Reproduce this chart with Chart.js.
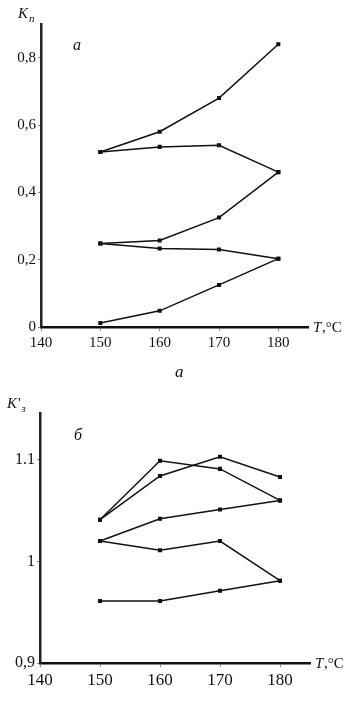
<!DOCTYPE html>
<html>
<head>
<meta charset="utf-8">
<script src="https://cdn.jsdelivr.net/npm/chart.js@4"></script>
<style>
  body { margin: 0; background: #fff; }
  .wrap { position: absolute; left: 0; width: 363px; }
</style>
</head>
<body>
<div class="wrap" style="top:0;height:360px"><canvas id="chartA" width="363" height="360"></canvas></div>
<div class="wrap" style="top:380px;height:330px"><canvas id="chartB" width="363" height="330"></canvas></div>
<script>
// temperatures, °C
const temps = [150, 160, 170, 180];
const xTicks = [140, 150, 160, 170, 180];

// panel a: K_п
const kpTop = [0.52, 0.58, 0.68, 0.84];
const kpUpperMid = [0.52, 0.535, 0.54, 0.46];
const kpLowerMid = [0.248, 0.257, 0.325, 0.46];
const kpLow = [0.248, 0.233, 0.23, 0.203];
const kpBottom = [0.012, 0.048, 0.125, 0.203];
const kpTicks = [0, 0.2, 0.4, 0.6, 0.8];
const kpTickLabels = ['0', '0,2', '0,4', '0,6', '0,8'];

// panel б: K'_з
const kz1 = [1.041, 1.099, 1.091, 1.060];
const kz2 = [1.041, 1.084, 1.103, 1.083];
const kz3 = [1.020, 1.042, 1.051, 1.060];
const kz4 = [1.020, 1.011, 1.020, 0.981];
const kz5 = [0.961, 0.961, 0.971, 0.981];
const kzTicks = [0.9, 1.0, 1.1];
const kzTickLabels = ['0,9', '1', '1.1'];

const serif = '"Liberation Serif", "DejaVu Serif", serif';
Chart.defaults.font.family = serif;
Chart.defaults.color = '#111';
Chart.defaults.animation = false;

function series(vals) {
    return {
        data: vals.map((v, i) => ({ x: temps[i], y: v })),
        borderColor: '#111',
        backgroundColor: '#111',
        borderWidth: 1.5,
        pointRadius: 1.8,
        pointStyle: 'rect',
        tension: 0
    };
}

// extra text: axis names, panel letter
function labelsPlugin(cfg) {
    return {
        id: 'labels',
        afterDraw(chart) {
            const c = chart.ctx, a = chart.chartArea;
            c.save();
            c.fillStyle = '#111';
            c.textBaseline = 'alphabetic';
            // y name
            c.font = 'italic 15px ' + serif;
            c.fillText(cfg.yMain, cfg.yx, cfg.yy);
            let w = c.measureText(cfg.yMain).width;
            c.font = 'italic 11px ' + serif;
            c.fillText(cfg.ySub, cfg.yx + w + 1, cfg.yy + 4);
            // x name
            c.font = 'italic 15px ' + serif;
            c.fillText('T', a.right + 5, a.bottom + 5);
            c.font = '15px ' + serif;
            c.fillText(',°C', a.right + 14, a.bottom + 5);
            // panel letter
            c.font = 'italic 16px ' + serif;
            c.fillText(cfg.panel, cfg.px, cfg.py);
            c.restore();
        }
    };
}

function makeChart(id, sets, yMin, yMax, yTicks, yLabels, pad, xHeight, yWidth, fx, fy, lab) {
    new Chart(document.getElementById(id), {
        type: 'line',
        data: { datasets: sets.map(series) },
        options: {
            responsive: false,
            layout: { padding: pad },
            plugins: { legend: { display: false }, tooltip: { enabled: false } },
            scales: {
                x: {
                    type: 'linear', min: 140, max: 185,
                    afterBuildTicks: s => { s.ticks = xTicks.map(v => ({ value: v })); },
                    afterFit: s => { s.height = xHeight; },
                    border: { color: '#111', width: 2.5 },
                    grid: { drawOnChartArea: false, color: '#888', tickLength: 4 },
                    ticks: { font: { size: fx }, padding: 3, maxRotation: 0, color: '#111' }
                },
                y: {
                    type: 'linear', min: yMin, max: yMax,
                    afterBuildTicks: s => { s.ticks = yTicks.map(v => ({ value: v })); },
                    afterFit: s => { s.width = yWidth; },
                    border: { color: '#222', width: 2.5 },
                    grid: { drawOnChartArea: false, color: '#888', tickLength: 3 },
                    ticks: {
                        font: { size: fy }, padding: 2, color: '#111',
                        callback: v => yLabels[yTicks.findIndex(t => Math.abs(t - v) < 1e-6)]
                    }
                }
            }
        },
        plugins: [labelsPlugin(lab)]
    });
}

makeChart('chartA', [kpTop, kpUpperMid, kpLowerMid, kpLow, kpBottom],
    0, 0.9, kpTicks, kpTickLabels,
    { left: 0, right: 55, top: 24, bottom: 0 }, 33, 41, 15, 15,
    { yMain: 'K', ySub: 'п', yx: 18, yy: 18, panel: 'a', px: 73, py: 50 });

makeChart('chartB', [kz1, kz2, kz3, kz4, kz5],
    0.9, 1.146, kzTicks, kzTickLabels,
    { left: 0, right: 53, top: 33, bottom: 0 }, 47, 40, 17, 16,
    { yMain: "K'", ySub: 'з', yx: 7, yy: 28, panel: 'б', px: 74, py: 60 });

// caption under panel a
const cap = document.createElement('div');
cap.textContent = 'a';
cap.style.cssText = 'position:absolute;left:175px;top:362px;font:italic 17px "Liberation Serif",serif;color:#111';
document.body.appendChild(cap);
</script>
</body>
</html>
